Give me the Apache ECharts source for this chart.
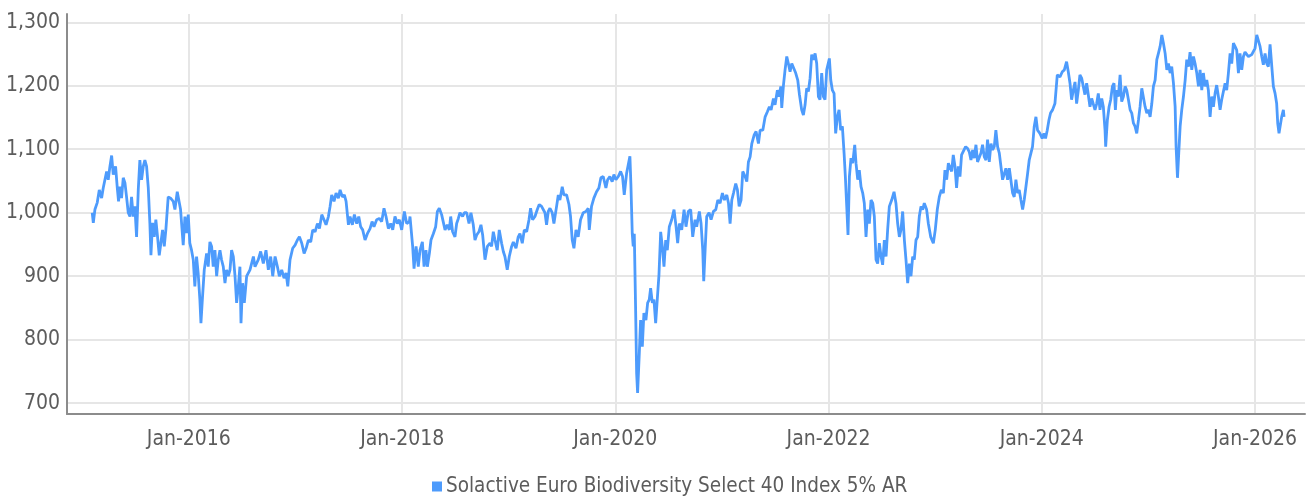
<!DOCTYPE html>
<html><head><meta charset="utf-8">
<script src="https://cdn.jsdelivr.net/npm/echarts@6/dist/echarts.min.js"></script>
<style>html,body{margin:0;padding:0;background:#fff}#c{width:1306px;height:498px}</style>
</head><body><div id="c"></div>
<script>
const seriesName = 'Solactive Euro Biodiversity Select 40 Index 5% AR';
const yTicks = [700, 800, 900, 1000, 1100, 1200, 1300];
const xTickYears = [2016, 2018, 2020, 2022, 2024, 2026];
const xRange = [2014.856, 2026.469];
const yRange = [683, 1313];

// dates as decimal years
const dates2015 = [2015.093,2015.103,2015.118,2015.140,2015.159,2015.181,2015.196,2015.212,2015.228,2015.243,
2015.259,2015.275,2015.290,2015.312,2015.328,2015.340,2015.353,2015.368,2015.384,2015.400,
2015.415,2015.431,2015.447,2015.462,2015.478,2015.493,2015.509,2015.525,2015.540,2015.556,
2015.572,2015.587,2015.603,2015.619,2015.634,2015.644,2015.659,2015.675,2015.690,2015.706,
2015.722,2015.737,2015.753,2015.769,2015.784,2015.806,2015.828,2015.853,2015.869,2015.891,
2015.909,2015.922,2015.947,2015.963,2015.978,2015.994,2016.009,2016.025,2016.041,2016.056,
2016.072,2016.087,2016.103,2016.113,2016.128,2016.144,2016.166,2016.181,2016.197,2016.213,
2016.228,2016.244,2016.260,2016.275,2016.291,2016.306,2016.322,2016.338,2016.353,2016.369,
2016.385,2016.400,2016.416,2016.432,2016.447,2016.463,2016.478,2016.488,2016.503,2016.519];
const values2015 = [1000,984,1005,1016,1036,1023,1039,1052,1065,1052,
1073,1090,1060,1073,1039,1018,1041,1023,1055,1047,
1025,1000,994,1025,994,1010,962,1036,1083,1052,
1073,1083,1073,1039,983,933,984,962,989,962,
933,952,973,947,973,1025,1023,1018,1005,1033,
1031,1005,949,994,968,997,952,941,926,884,
931,905,863,826,868,910,936,915,954,947,
915,941,900,926,941,926,915,889,910,900,
910,941,931,900,858,884,915,826,889,858];

const dates2016 = [2016.541,2016.572,2016.604,2016.619,2016.650,2016.672,2016.697,2016.722,2016.744,2016.766,
2016.785,2016.807,2016.829,2016.847,2016.869,2016.891,2016.910,2016.926,2016.947,2016.972,
2016.994,2017.016,2017.035,2017.057,2017.079,2017.098,2017.119,2017.141,2017.160,2017.182,
2017.204,2017.223,2017.245,2017.266,2017.285,2017.307,2017.323,2017.338,2017.360,2017.379,
2017.401,2017.417,2017.438,2017.457,2017.473,2017.495,2017.510,2017.532,2017.551,2017.573,
2017.592,2017.610,2017.629,2017.651,2017.673,2017.698,2017.717,2017.735,2017.760,2017.785,
2017.807,2017.829,2017.848,2017.870,2017.892,2017.911,2017.932,2017.954,2017.973,2017.995,
2018.020,2018.042,2018.067];
const values2016 = [900,910,931,915,926,939,920,941,910,931,
900,931,915,900,910,897,905,884,926,944,
949,957,962,952,936,944,957,954,973,970,
983,975,997,989,981,994,1010,1028,1018,1031,
1023,1036,1025,1028,1018,981,994,981,997,983,
994,978,973,957,967,975,986,978,989,991,
986,1007,994,975,983,973,994,983,989,973,
1002,983,986];

const dates2018 = [2018.073,2018.098,2018.111,2018.130,2018.151,2018.167,2018.189,2018.205,2018.223,2018.236,
2018.255,2018.270,2018.292,2018.314,2018.330,2018.348,2018.370,2018.386,2018.402,2018.423,
2018.442,2018.455,2018.473,2018.495,2018.511,2018.527,2018.542,2018.567,2018.583,2018.605,
2018.627,2018.645,2018.667,2018.683,2018.699,2018.720,2018.739,2018.755,2018.777,2018.799,
2018.824,2018.839,2018.855,2018.871,2018.892,2018.911,2018.933,2018.949,2018.964,2018.986,
2019.005,2019.027,2019.043,2019.068,2019.089,2019.105,2019.127,2019.146,2019.168,2019.190,
2019.205,2019.224,2019.246,2019.268,2019.286,2019.308,2019.324,2019.340,2019.355,2019.371,
2019.387,2019.408,2019.424,2019.449,2019.465,2019.480,2019.502,2019.518,2019.543,2019.565,
2019.580,2019.596,2019.612,2019.631,2019.652];
const values2018 = [994,947,912,947,915,941,954,915,941,915,
936,957,967,978,1002,1007,997,994,973,981,
973,994,970,962,983,991,1000,994,1000,1000,
983,1000,981,957,965,970,981,965,926,947,
952,947,970,957,941,973,952,939,931,910,
931,947,954,944,962,967,952,973,970,989,
1007,989,994,1005,1013,1010,1013,1000,981,1002,
1007,1000,983,1010,1028,1020,1041,1028,1028,1013,
994,957,944,973,962];

const dates2019 = [2019.674,2019.699,2019.724,2019.746,2019.756,2019.777,2019.799,2019.824,2019.846,2019.865,
2019.887,2019.912,2019.928,2019.949,2019.971,2019.987,2020.006,2020.028,2020.050,2020.068,
2020.084,2020.106,2020.121,2020.137,2020.146,2020.159,2020.168,2020.178,2020.190,2020.200,
2020.209,2020.225,2020.237,2020.253,2020.268,2020.287,2020.303,2020.318,2020.331,2020.347,
2020.362,2020.378,2020.393,2020.409,2020.425,2020.440,2020.456,2020.472,2020.487,2020.506,
2020.528,2020.550,2020.569,2020.584,2020.600,2020.622,2020.644,2020.662,2020.684,2020.706,
2020.725,2020.747,2020.762,2020.787,2020.803,2020.819,2020.828,2020.841,2020.856,2020.878,
2020.897,2020.919,2020.941,2020.960,2020.981,2021.003,2021.022,2021.044,2021.060,2021.075,
2021.091,2021.107,2021.128,2021.144,2021.160,2021.178,2021.194,2021.216,2021.232,2021.247,
2021.263,2021.279,2021.300,2021.319,2021.341,2021.357];
const values2019 = [989,1000,1002,1007,973,1010,1023,1033,1039,1055,
1057,1039,1052,1057,1049,1060,1052,1057,1065,1057,
1028,1062,1075,1089,1046,967,947,967,852,747,
716,779,831,789,842,831,858,863,881,858,
863,826,863,902,970,947,915,957,941,978,
989,1005,978,952,983,973,1005,978,1002,1005,
962,989,978,1002,983,941,892,941,994,1000,
989,1002,1005,1020,1015,1031,1020,1028,1015,983,
1020,1031,1046,1036,1010,1020,1065,1057,1049,1080,
1088,1109,1122,1128,1109,1130];

const dates2021 = [2021.382,2021.404,2021.425,2021.444,2021.460,2021.482,2021.497,2021.519,2021.535,2021.551,
2021.560,2021.576,2021.591,2021.607,2021.622,2021.638,2021.654,2021.669,2021.691,2021.710,
2021.726,2021.747,2021.763,2021.779,2021.794,2021.810,2021.826,2021.841,2021.857,2021.873,
2021.888,2021.904,2021.919,2021.935,2021.951,2021.966,2021.982,2021.998,2022.007,2022.020,
2022.035,2022.051,2022.066,2022.082,2022.098,2022.113,2022.129,2022.145,2022.157,2022.170,
2022.182,2022.195,2022.210,2022.226,2022.245,2022.257,2022.273,2022.288,2022.304,2022.320,
2022.335,2022.351,2022.367,2022.382,2022.398,2022.414,2022.429,2022.445,2022.460,2022.476,
2022.492,2022.507,2022.523,2022.539,2022.554,2022.570,2022.592,2022.614,2022.632,2022.648,
2022.664,2022.679,2022.695,2022.711,2022.726,2022.742,2022.758,2022.773,2022.789,2022.804,
2022.820,2022.836,2022.851,2022.867,2022.883,2022.898,2022.920,2022.936,2022.958,2022.983,
2023.001,2023.020,2023.039,2023.058,2023.077,2023.092,2023.108,2023.124];
const values2021 = [1130,1151,1159,1167,1162,1180,1170,1193,1183,1199,
1165,1201,1225,1246,1235,1222,1235,1233,1220,1209,
1186,1162,1154,1170,1196,1191,1212,1249,1241,1251,
1235,1183,1178,1220,1183,1178,1225,1225,1243,1209,
1193,1188,1125,1151,1162,1130,1136,1094,1057,1010,
965,1057,1086,1078,1107,1078,1052,1067,1041,1031,
1015,962,1005,983,1020,1015,994,926,920,952,
931,918,957,931,973,1010,1020,1033,1015,983,
962,973,1002,957,926,889,920,900,931,926,
957,962,994,1010,1005,1015,1005,983,962,952,
973,1005,1025,1036,1031,1067,1052,1078];

const dates2023 = [2023.139,2023.155,2023.170,2023.186,2023.201,2023.217,2023.233,2023.248,2023.264,2023.286,
2023.305,2023.320,2023.336,2023.352,2023.367,2023.383,2023.398,2023.414,2023.430,2023.445,
2023.461,2023.477,2023.492,2023.508,2023.524,2023.539,2023.555,2023.570,2023.586,2023.602,
2023.617,2023.633,2023.649,2023.664,2023.680,2023.696,2023.711,2023.727,2023.742,2023.758,
2023.774,2023.789,2023.805,2023.821,2023.836,2023.852,2023.868,2023.883,2023.899,2023.914,
2023.930,2023.946,2023.961,2023.983,2024.005,2024.021,2024.036,2024.052,2024.068,2024.083,
2024.102];
const values2023 = [1075,1065,1091,1073,1039,1073,1057,1091,1088,1104,
1101,1096,1083,1099,1086,1107,1080,1078,1094,1107,
1088,1083,1115,1080,1109,1099,1104,1130,1104,1094,
1094,1052,1055,1070,1052,1070,1067,1031,1025,1052,
1031,1036,1020,1005,1020,1041,1062,1083,1094,1104,
1136,1151,1130,1125,1117,1125,1117,1130,1146,1157,
1162];

const dates2024 = [2024.124,2024.146,2024.171,2024.193,2024.212,2024.233,2024.249,2024.265,2024.280,2024.296,
2024.312,2024.327,2024.343,2024.358,2024.374,2024.390,2024.405,2024.421,2024.437,2024.452,
2024.468,2024.484,2024.499,2024.515,2024.530,2024.546,2024.562,2024.577,2024.593,2024.599,
2024.615,2024.631,2024.646,2024.662,2024.677,2024.690,2024.702,2024.718,2024.734,2024.749,
2024.765,2024.781,2024.796,2024.812,2024.828,2024.843,2024.859,2024.874,2024.890,2024.906,
2024.921,2024.937,2024.953,2024.968,2024.984,2025.000,2025.015,2025.031,2025.046,2025.062,
2025.078,2025.093,2025.109,2025.125,2025.140,2025.156,2025.172,2025.187,2025.203,2025.218,
2025.234,2025.250,2025.259,2025.272,2025.284,2025.297,2025.312,2025.328,2025.344,2025.359,
2025.375,2025.390,2025.406,2025.422,2025.437,2025.453,2025.469,2025.484,2025.500,2025.515,
2025.531,2025.547,2025.562,2025.578,2025.594,2025.609,2025.625,2025.640,2025.656,2025.672,
2025.687,2025.703,2025.719,2025.734,2025.750,2025.766,2025.781,2025.797,2025.812,2025.828,
2025.844,2025.859,2025.875,2025.891,2025.906,2025.922,2025.938,2025.953,2025.969,2025.984,
2026.000,2026.016,2026.031,2026.047,2026.063,2026.078,2026.094,2026.110,2026.125,2026.141,
2026.156,2026.172,2026.188,2026.203,2026.213,2026.225,2026.238,2026.250,2026.266,2026.272];
const values2024 = [1172,1217,1214,1222,1225,1238,1222,1204,1178,1193,
1206,1172,1193,1217,1212,1209,1186,1204,1201,1167,
1180,1178,1162,1172,1188,1162,1180,1167,1130,1104,
1146,1167,1178,1199,1204,1162,1193,1183,1217,1175,
1183,1199,1193,1178,1162,1157,1141,1136,1125,1146,
1167,1196,1193,1167,1157,1162,1151,1172,1199,1209,
1241,1251,1262,1280,1267,1251,1225,1235,1220,1230,
1204,1167,1104,1055,1094,1136,1162,1183,1209,1241,
1230,1253,1225,1246,1235,1220,1199,1225,1193,1220,
1199,1209,1193,1151,1183,1167,1188,1201,1183,1162,
1178,1191,1204,1193,1220,1251,1235,1267,1262,1256,
1220,1251,1225,1246,1253,1251,1246,1249,1249,1251,
1259,1280,1283,1262,1246,1233,1251,1235,1230,1265,
1267,1199,1188,1172,1141,1125,1125,1151,1162,1151];

const allDates = [].concat(dates2015, dates2016, dates2018, dates2019, dates2021, dates2023, dates2024);
const allValues = [].concat(values2015, values2016, values2018, values2019, values2021, values2023, values2024);

function toTime(d) {
  const y = Math.floor(d);
  const s = Date.UTC(y, 0, 1);
  const e = Date.UTC(y + 1, 0, 1);
  return s + (d - y) * (e - s);
}
const seriesData = allDates.map((d, i) => [toTime(d), allValues[i]]);
const xTicks = xTickYears.map(y => Date.UTC(y, 0, 1));

const FONT = "'DejaVu Sans Condensed','Liberation Sans Narrow',sans-serif";
const TXT = '#5c5c5c';
const LINE = '#4d9bfc';

const chart = echarts.init(document.getElementById('c'), null, { renderer: 'canvas' });
chart.setOption({
  animation: false,
  backgroundColor: '#ffffff',
  grid: { left: 67, right: 1, top: 14, bottom: 84 },
  legend: {
    data: [seriesName],
    left: 427, top: 471,
    icon: 'rect', itemWidth: 10, itemHeight: 10, itemGap: 10,
    textStyle: { fontFamily: FONT, fontSize: 20.5, color: TXT, padding: [0, 0, 0, -1] }
  },
  xAxis: {
    type: 'value',
    min: toTime(xRange[0]), max: toTime(xRange[1]),
    axisLine: { show: true, lineStyle: { color: '#8c8c8c', width: 2 } },
    axisTick: { show: false, customValues: xTicks },
    axisLabel: {
      customValues: xTicks,
      formatter: v => 'Jan-' + new Date(v).getUTCFullYear(),
      fontFamily: FONT, fontSize: 21, color: TXT, margin: 15, hideOverlap: false
    },
    splitLine: { show: true, lineStyle: { color: '#e6e6e6', width: 2 } }
  },
  yAxis: {
    type: 'value',
    min: yRange[0], max: yRange[1],
    axisLine: { show: true, lineStyle: { color: '#8c8c8c', width: 2 } },
    axisTick: { show: false, customValues: yTicks },
    axisLabel: {
      customValues: yTicks,
      formatter: v => v.toLocaleString('en-US'),
      fontFamily: FONT, fontSize: 21, color: TXT, margin: 7,
      padding: [5, 0, 0, 0]
    },
    splitLine: { show: true, lineStyle: { color: '#e6e6e6', width: 2 } }
  },
  series: [{
    name: seriesName,
    type: 'line',
    data: seriesData,
    showSymbol: false,
    symbol: 'none',
    lineStyle: { color: LINE, width: 2.8 },
    itemStyle: { color: LINE }
  }]
});
</script>
</body></html>
